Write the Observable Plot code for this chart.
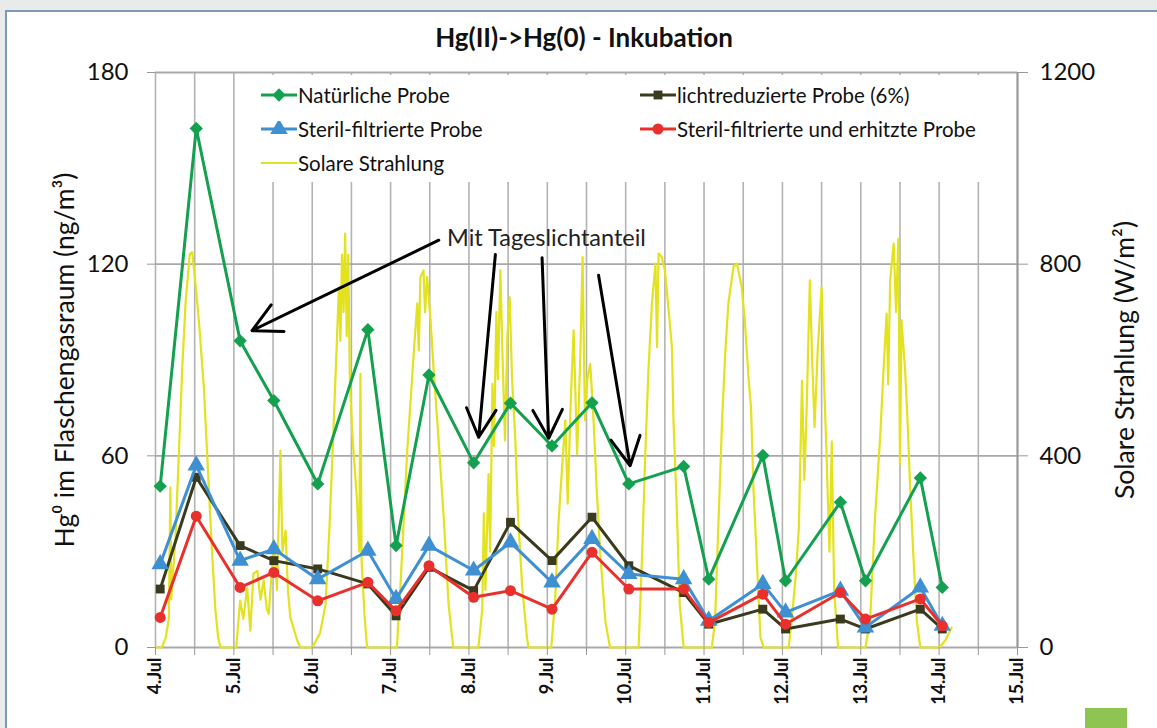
<!DOCTYPE html>
<html>
<head>
<meta charset="utf-8">
<script src="https://cdn.jsdelivr.net/npm/d3@7"></script>
<script src="https://cdn.jsdelivr.net/npm/@observablehq/plot@0.6"></script>
<style>
  html, body { margin:0; padding:0; width:1157px; height:728px; overflow:hidden; background:#e9ebea; font-family: Lato, "Open Sans", sans-serif; }
  #panel { position:absolute; left:5px; top:10px; width:1170px; height:740px; background:#fff; border-left:2px solid #7d9bb8; border-top:2px solid #7d9bb8; }
  #title { position:absolute; left:384px; width:400px; top:22px; line-height:30px; text-align:center; font-weight:bold; font-size:26px; color:#111; white-space:nowrap; }
  #chart { position:absolute; left:0; top:50px; }
  #legend { position:absolute; left:240px; top:75px; width:760px; height:107px; background:#fff; z-index:5; }
  .item { position:absolute; display:flex; align-items:center; font-size:20.5px; color:#111; white-space:nowrap; height:20px; }
  .item svg { margin-right:1px; }
  #deco { position:absolute; left:1085px; top:708px; width:42px; height:20px; background:#8dc452; }
</style>
</head>
<body>
<div id="panel"></div>
<div id="title">Hg(II)-&gt;Hg(0) - Inkubation</div>
<div id="chart"></div>
<div id="legend"></div>
<div id="deco"></div>
<script>
// ---------- data ----------
const sampleTimes = [4.06, 4.52, 5.08, 5.51, 6.07, 6.71, 7.07, 7.49, 8.06, 8.53, 9.06, 9.57, 10.04, 10.74, 11.06, 11.75, 12.04, 12.74, 13.06, 13.76, 14.04];
const natuerlicheProbe = [50.5, 162.5, 96.0, 77.3, 51.2, 99.5, 31.9, 85.3, 57.8, 76.5, 63.1, 76.6, 51.2, 56.7, 21.4, 60.1, 20.9, 45.5, 20.9, 53.1, 18.8];
const lichtreduziertProbe = [18.3, 53.3, 31.9, 27.2, 24.6, 19.9, 9.9, 25.1, 17.8, 39.2, 27.2, 40.8, 25.6, 17.2, 7.3, 12.0, 5.8, 8.9, 5.8, 12.0, 5.8];
const sterilFiltriertProbe = [26.1, 57.0, 27.2, 30.8, 21.4, 30.3, 15.2, 31.9, 24.1, 32.9, 20.4, 34.0, 23.0, 21.4, 8.4, 19.9, 11.0, 17.8, 6.3, 18.8, 6.8];
const sterilErhitztProbe = [9.4, 41.1, 18.8, 23.5, 14.6, 20.4, 11.5, 25.6, 15.7, 17.8, 12.0, 29.8, 18.3, 18.3, 7.8, 16.7, 7.3, 17.2, 8.9, 15.2, 6.8];

const solarTime = [
  4.00, 4.08, 4.13, 4.17, 4.19, 4.20, 4.255, 4.298, 4.34, 4.383, 4.438, 4.468, 4.51, 4.553, 4.617, 4.68, 4.723, 4.765, 4.80, 4.83,
  5.03, 5.08, 5.12, 5.17, 5.21, 5.25, 5.30, 5.34, 5.38, 5.42, 5.445, 5.48, 5.51, 5.55, 5.594, 5.62, 5.66, 5.69, 5.72, 5.81, 5.85,
  6.00, 6.10, 6.17, 6.22, 6.27, 6.31, 6.34, 6.36, 6.38, 6.40, 6.42, 6.44, 6.46, 6.48, 6.51, 6.54, 6.57, 6.60, 6.615, 6.63, 6.67, 6.70,
  7.08, 7.125, 7.21, 7.295, 7.34, 7.36, 7.38, 7.42, 7.44, 7.466, 7.51, 7.55, 7.61, 7.68, 7.74, 7.80,
  8.12, 8.17, 8.19, 8.21, 8.25, 8.27, 8.30, 8.32, 8.35, 8.37, 8.40, 8.43, 8.46, 8.49, 8.52, 8.55, 8.59, 8.63, 8.68, 8.74, 8.76,
  9.05, 9.10, 9.144, 9.19, 9.23, 9.26, 9.30, 9.336, 9.38, 9.42, 9.45, 9.48, 9.51, 9.548, 9.59, 9.63, 9.676, 9.74, 9.80,
  10.165, 10.21, 10.25, 10.29, 10.335, 10.38, 10.40, 10.42, 10.46, 10.50, 10.54, 10.59, 10.61, 10.65, 10.67, 10.69, 10.74,
  11.10, 11.14, 11.185, 11.23, 11.27, 11.31, 11.376, 11.42, 11.48, 11.52, 11.57, 11.60, 11.63, 11.68, 11.72, 11.76,
  12.08, 12.12, 12.17, 12.21, 12.25, 12.28, 12.31, 12.35, 12.38, 12.41, 12.45, 12.50, 12.53, 12.56, 12.60, 12.63, 12.66, 12.71,
  13.06, 13.12, 13.18, 13.247, 13.29, 13.33, 13.35, 13.375, 13.42, 13.45, 13.48, 13.50, 13.52, 13.566, 13.60, 13.63, 13.67, 13.715, 13.76,
  14.00, 14.08, 14.16
];
const solarWm2 = [
  0, 0, 20, 60, 334, 100, 230, 404, 578, 718, 822, 825, 760, 683, 543, 334, 195, 77, 20, 0,
  0, 98, 60, 125, 35, 154, 160, 100, 140, 80, 70, 150, 223, 120, 411, 200, 244, 120, 63, 14, 0,
  0, 30, 90, 250, 450, 620, 750, 640, 820, 700, 864, 650, 820, 560, 450, 380, 310, 200, 571, 180, 60, 0,
  0, 125, 404, 613, 718, 620, 773, 787, 700, 773, 683, 578, 439, 265, 90, 0,
  0, 80, 280, 120, 362, 200, 550, 420, 700, 560, 787, 600, 432, 650, 731, 560, 439, 265, 125, 21, 0,
  0, 100, 265, 380, 474, 300, 520, 662, 404, 600, 815, 474, 560, 592, 474, 330, 195, 56, 0,
  0, 195, 404, 578, 718, 801, 627, 822, 815, 787, 718, 627, 474, 300, 195, 90, 0,
  0, 56, 265, 474, 613, 718, 795, 801, 753, 683, 557, 500, 334, 160, 21, 0,
  0, 60, 150, 250, 557, 350, 500, 766, 600, 460, 620, 752, 560, 420, 200, 430, 120, 0,
  0, 60, 265, 439, 578, 697, 549, 766, 843, 700, 853, 383, 683, 578, 460, 334, 195, 56, 0,
  0, 15, 42
];

const dayTicks = [4, 5, 6, 7, 8, 9, 10, 11, 12, 13, 14, 15];
const halfDayTicks = [4, 4.5, 5, 5.5, 6, 6.5, 7, 7.5, 8, 8.5, 9, 9.5, 10, 10.5, 11, 11.5, 12, 12.5, 13, 13.5, 14, 14.5, 15];
const yTicks = [0, 60, 120, 180];
const yRightTicks = [0, 400, 800, 1200];

const seriesNames = ["Natürliche Probe", "lichtreduzierte Probe (6%)", "Steril-filtrierte Probe", "Steril-filtrierte und erhitzte Probe"];
const seriesValues = [natuerlicheProbe, lichtreduziertProbe, sterilFiltriertProbe, sterilErhitztProbe];
const seriesColors = ["#13a04f", "#3a3a1f", "#3f8fd3", "#e8302d"];
const seriesSymbols = ["diamond2", "square", "triangle", "circle"];
const seriesR = [6, 5, 6.5, 5.5];
const solarName = "Solare Strahlung";
const solarColor = "#e2e21e";

const arrowFromT = [7.615, 8.337, 8.933, 9.654];
const arrowFromV = [127.5, 123.0, 122.0, 116.5];
const arrowToT = [5.232, 8.124, 9.017, 10.057];
const arrowToV = [99.2, 65.8, 65.5, 56.9];
const annotationText = "Mit Tageslichtanteil";
const annotationT = 7.72;
const annotationV = 128;

const yLeftLabel = "Hg⁰ im Flaschengasraum (ng/m³)";
const yRightLabel = "Solare Strahlung (W/m²)";

// ---------- tables ----------
const ratio = yTicks[yTicks.length - 1] / yRightTicks[yRightTicks.length - 1];
const solar = solarTime.map((t, i) => ({t, v: solarWm2[i] * ratio}));
const series = seriesNames.map((name, k) => sampleTimes.map((t, i) => ({t, v: seriesValues[k][i], name})));
const arrows = arrowFromT.map((t, i) => ({x1: t, y1: arrowFromV[i], x2: arrowToT[i], y2: arrowToV[i]}));

const seriesMarks = series.flatMap((data, k) => [
  Plot.line(data, {x: "t", y: "v", stroke: seriesColors[k], strokeWidth: 3}),
  Plot.dot(data, {x: "t", y: "v", symbol: () => seriesSymbols[k], r: seriesR[k], fill: seriesColors[k], stroke: "none"})
]);

const chart = Plot.plot({
  width: 1157,
  height: 678,
  marginTop: 22,
  marginLeft: 155,
  marginRight: 140,
  marginBottom: 81,
  x: {domain: [4, 15]},
  y: {domain: [0, 180]},
  symbol: {type: "identity"},
  style: {fontFamily: "Lato, 'Open Sans', sans-serif", fontSize: "21px", color: "#111", background: "transparent", overflow: "visible"},
  marks: [
    Plot.ruleX(halfDayTicks, {stroke: "#b3b3b3", strokeWidth: 1.6}),
    Plot.ruleY(yTicks, {stroke: "#a9a9a9", strokeWidth: 1.8}),
    Plot.ruleX([15], {stroke: "#999", strokeWidth: 2}),
    Plot.line(solar, {x: "t", y: "v", stroke: solarColor, strokeWidth: 2.2}),
    ...seriesMarks,
    Plot.arrow(arrows, {x1: "x1", y1: "y1", x2: "x2", y2: "y2", stroke: "#000", strokeWidth: 3, headLength: 16, headAngle: 55}),
    Plot.text([annotationText], {x: () => annotationT, y: () => annotationV, text: d => d, textAnchor: "start", fontSize: 23.5, fill: "#222"}),
    Plot.axisY(yTicks, {anchor: "left", tickSize: 8, tickPadding: 19, stroke: "#999", fontSize: 24, label: null}),
    Plot.axisY(yTicks, {anchor: "right", tickSize: 10, tickPadding: 12, stroke: "#999", fontSize: 24, label: null,
      tickFormat: d => String(yRightTicks[yTicks.indexOf(d)])}),
    Plot.axisX(halfDayTicks, {anchor: "bottom", tickSize: 8, stroke: "#999", tickFormat: () => "", label: null}),
    Plot.axisX(dayTicks, {anchor: "bottom", tickSize: 0, tickPadding: 10, tickRotate: -90, fontSize: 18, fontWeight: "bold",
      tickFormat: d => `${d}.Jul`, label: null}),
    Plot.text([yLeftLabel], {frameAnchor: "left", dx: -90, rotate: -90, textAnchor: "middle", text: d => d, fontSize: 26.5}),
    Plot.text([yRightLabel], {frameAnchor: "right", dx: 108, rotate: -90, textAnchor: "middle", text: d => d, fontSize: 26.5})
  ]
});
document.getElementById("chart").appendChild(chart);

// ---------- legend ----------
const legend = document.getElementById("legend");
const symbolMap = {diamond2: d3.symbolDiamond2, square: d3.symbolSquare, triangle: d3.symbolTriangle, circle: d3.symbolCircle};
function swatch(color, symbol, r, lineWidth) {
  const w = 36, h = 16;
  let marker = "";
  if (symbol) {
    const p = d3.symbol(symbolMap[symbol], Math.PI * r * r)();
    marker = `<path d="${p}" transform="translate(${w/2},${h/2})" fill="${color}"/>`;
  }
  return `<svg width="${w}" height="${h}"><line x1="0" x2="${w}" y1="${h/2}" y2="${h/2}" stroke="${color}" stroke-width="${lineWidth}"/>${marker}</svg>`;
}
const legendItems = [
  {label: seriesNames[0], color: seriesColors[0], symbol: seriesSymbols[0], r: seriesR[0], lw: 3, left: 21, top: 20},
  {label: seriesNames[2], color: seriesColors[2], symbol: seriesSymbols[2], r: seriesR[2], lw: 3, left: 21, top: 54},
  {label: solarName, color: solarColor, symbol: null, r: 0, lw: 2.2, left: 21, top: 88},
  {label: seriesNames[1], color: seriesColors[1], symbol: seriesSymbols[1], r: seriesR[1], lw: 3, left: 400, top: 20},
  {label: seriesNames[3], color: seriesColors[3], symbol: seriesSymbols[3], r: seriesR[3], lw: 3, left: 400, top: 54}
];
for (const it of legendItems) {
  const div = document.createElement("div");
  div.className = "item";
  div.style.left = it.left + "px";
  div.style.top = (it.top - 10) + "px";
  div.innerHTML = swatch(it.color, it.symbol, it.r, it.lw) + `<span>${it.label}</span>`;
  legend.appendChild(div);
}
</script>
</body>
</html>
